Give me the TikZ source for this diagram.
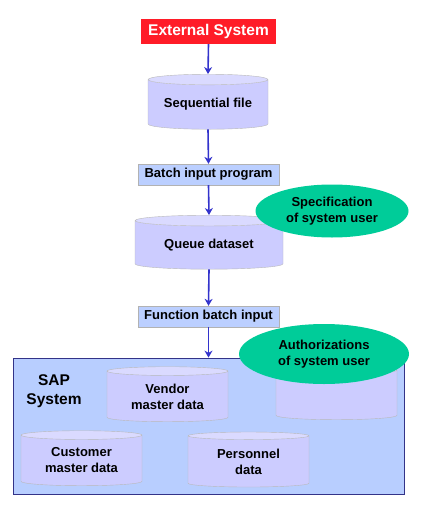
\documentclass[tikz,border=0pt]{standalone}
\usepackage{fontspec}
\setmainfont{Liberation Sans}
\usetikzlibrary{shapes.geometric,arrows.meta}

\definecolor{extred}{RGB}{255,28,40}
\definecolor{stepblue}{RGB}{187,207,255}
\definecolor{cylbody}{RGB}{204,204,255}
\definecolor{cyltop}{RGB}{218,218,255}
\definecolor{usergreen}{RGB}{0,204,153}
\definecolor{arrowblue}{RGB}{51,51,204}
\definecolor{sapfill}{RGB}{184,206,255}
\definecolor{sapedge}{RGB}{51,51,136}

\tikzset{
  label font/.style={font=\fontsize{13}{16}\selectfont\bfseries},
  stepbox/.style={rectangle, fill=stepblue, draw=gray!60, label font,
    minimum width=141pt, minimum height=21pt, inner sep=0pt},
  datastore/.style={cylinder, shape border rotate=90, aspect=0.12,
    cylinder uses custom fill, cylinder body fill=cylbody, cylinder end fill=cyltop,
    draw=gray!55, label font, align=center, inner sep=0pt,
    minimum width=121pt, minimum height=55pt},
  userbubble/.style={ellipse, fill=usergreen, label font, align=center, inner sep=0pt},
  flow/.style={arrowblue, line width=1.6pt, ->}
}

\begin{document}
\begin{tikzpicture}[>={Stealth[length=7pt,width=8pt]}, x=1pt, y=-1pt]
		\useasboundingbox (0,0) rectangle (439,519);

		% Input side
		\node[fill=extred, text=white, font=\fontsize{15.5}{18}\selectfont\bfseries,
		  minimum width=135pt, minimum height=25pt, inner sep=0pt] (ext) at (208.5,31.5) {External System};
		\node[datastore, minimum width=120pt] (seq) at (208,104.5) {Sequential file};
		\node[stepbox] (batch) at (208.5,174.5) {Batch input program};
		\node[datastore, minimum width=148pt, minimum height=54pt] (queue) at (209,245) {Queue dataset};
		\node[userbubble, minimum width=153pt, minimum height=53pt] (spec) at (332,211) {Specification\\of system user};
		\node[stepbox] (func) at (208.5,316.5) {Function batch input};

		% SAP system
		\node[rectangle, fill=sapfill, draw=sapedge, thick, minimum width=391pt, minimum height=136pt,
		  inner sep=0pt] (sap) at (208.5,426) {};
		\node[font=\fontsize{15.5}{19}\selectfont\bfseries, align=center] (saplabel) at (54,391) {SAP\\System};
		\node[datastore, minimum height=54pt] (auths) at (336.5,395) {\phantom{Vendor}\\\phantom{master data}};
		\node[datastore] (vendor) at (167.5,396.5) {Vendor\\master data};
		\node[datastore] (customer) at (81.5,460.5) {Customer\\master data};
		\node[datastore] (personnel) at (248.5,461.5) {Personnel\\data};
		\node[userbubble, minimum width=170pt, minimum height=60pt] (auth) at (324,354) {Authorizations\\of system user};

		% Arrows
		\draw[flow] (ext.south) -- (seq.north);
		\draw[flow] (seq.south) -- (batch.north);
		\draw[flow] (batch.south) -- (queue.north);
		\draw[flow] (queue.south) -- (func.north);
		\draw[flow] (func.south) -- (sap.north);
\end{tikzpicture}
\end{document}
